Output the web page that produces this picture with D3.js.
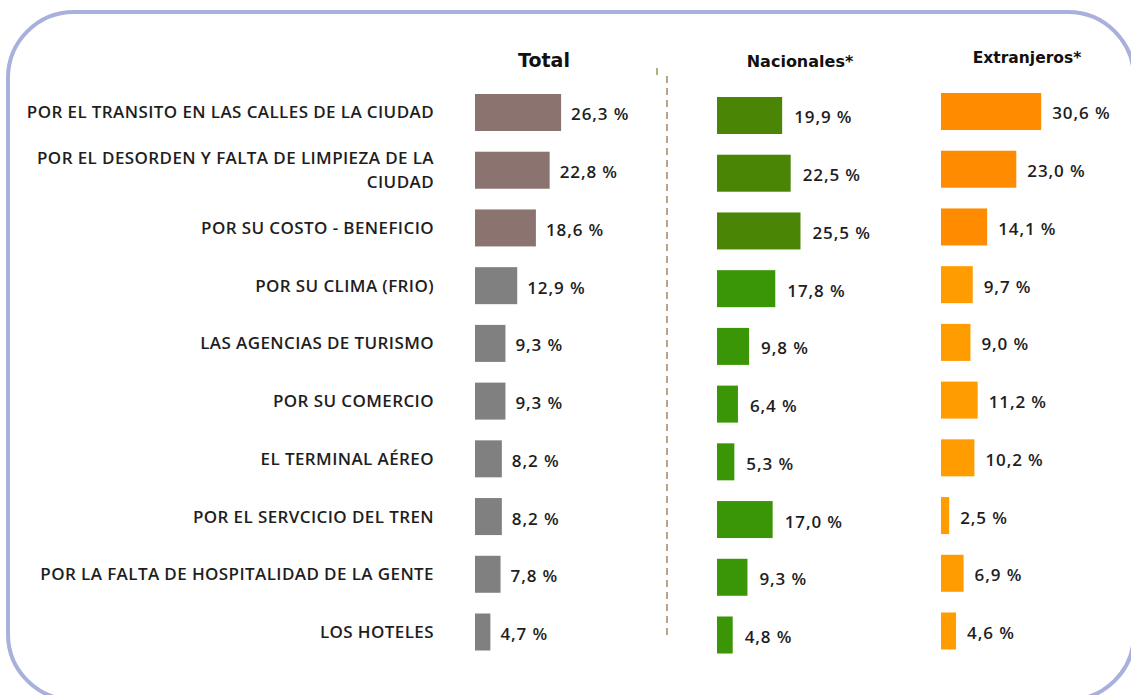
<html>
<head>
	<title>Percepcion de la ciudad</title>
	<meta charset="utf-8">
	<script src="https://d3js.org/d3.v7.min.js"></script>
	<style>
		body { margin: 0; background: #fff; }
		text { font-family: "Open Sans", Lato, sans-serif; }
	</style>
</head>
<body>
	<script type="text/javascript">
		var width = 1131,
			height = 695;

		// categories (second one wraps in two lines)
		var categories = [
			["POR EL TRANSITO EN LAS CALLES DE LA CIUDAD"],
			["POR EL DESORDEN Y FALTA DE LIMPIEZA DE LA", "CIUDAD"],
			["POR SU COSTO - BENEFICIO"],
			["POR SU CLIMA (FRIO)"],
			["LAS AGENCIAS DE TURISMO"],
			["POR SU COMERCIO"],
			["EL TERMINAL AÉREO"],
			["POR EL SERVCICIO DEL TREN"],
			["POR LA FALTA DE HOSPITALIDAD DE LA GENTE"],
			["LOS HOTELES"]
		];
		var total = [26.3, 22.8, 18.6, 12.9, 9.3, 9.3, 8.2, 8.2, 7.8, 4.7];
		var nacionales = [19.9, 22.5, 25.5, 17.8, 9.8, 6.4, 5.3, 17.0, 9.3, 4.8];
		var extranjeros = [30.6, 23.0, 14.1, 9.7, 9.0, 11.2, 10.2, 2.5, 6.9, 4.6];
		var headers = ["Total", "Nacionales*", "Extranjeros*"];

		var svg = d3.select("body").append("svg")
			.attr("width", width)
			.attr("height", height);

		// rounded frame
		svg.append("rect")
			.attr("x", 8).attr("y", 12)
			.attr("width", 1126).attr("height", 688)
			.attr("rx", 66).attr("ry", 66)
			.attr("fill", "none")
			.attr("stroke", "#a9b0dc")
			.attr("stroke-width", 4);

		var idx = d3.range(categories.length);
		var yScale = d3.scalePoint().domain(idx).range([112.5, 632]);
		var xScale = d3.scaleLinear().domain([0, 31]).range([0, 101.5]);
		var barH = 37;

		var fmt = function(v) { return d3.format(".1f")(v).replace(".", ",") + " %"; };

		// category labels
		var lab = svg.append("g").selectAll("text")
			.data(categories)
			.enter().append("text")
			.attr("x", 434)
			.attr("text-anchor", "end")
			.attr("font-size", 17)
			.attr("font-weight", 600)
			.attr("letter-spacing", "0.4px")
			.attr("fill", "#1e1e1e");
		lab.each(function(d, i) {
			var t = d3.select(this);
			var y0 = yScale(i) - (d.length - 1) * 12;
			d.forEach(function(line, k) {
				t.append("tspan").attr("x", 434).attr("y", y0 + k * 24).attr("dy", "0.35em").text(line);
			});
		});

		var panels = [
			{ name: headers[0], vals: total, x0: 475, dy: 0, lx: 10, hx: 544, hy: 60, hs: 19,
			  c1: "#8b7470", c2: "#808080" },
			{ name: headers[1], vals: nacionales, x0: 717, dy: 3, lx: 12, hx: 800, hy: 61, hs: 16,
			  c1: "#4a8506", c2: "#3a9606" },
			{ name: headers[2], vals: extranjeros, x0: 941, dy: -1, lx: 11, hx: 1027, hy: 58, hs: 15.5,
			  c1: "#ff8c00", c2: "#ff9d00" }
		];

		panels.forEach(function(p) {
			var g = svg.append("g").attr("transform", "translate(" + p.x0 + ",0)");

			svg.append("text")
				.attr("x", p.hx).attr("y", p.hy)
				.attr("text-anchor", "middle")
				.attr("dy", "0.35em")
				.attr("font-size", p.hs)
				.attr("font-weight", "bold")
				.attr("fill", "#111")
				.style("font-family", "'DejaVu Sans', sans-serif")
				.text(p.name);

			g.selectAll("rect")
				.data(p.vals)
				.enter().append("rect")
				.attr("x", 0)
				.attr("y", function(d, i) { return yScale(i) + p.dy - barH / 2; })
				.attr("width", function(d) { return xScale(d); })
				.attr("height", barH)
				.attr("fill", function(d, i) { return i < 3 ? p.c1 : p.c2; });

			g.selectAll("text")
				.data(p.vals)
				.enter().append("text")
				.attr("x", function(d) { return xScale(d) + p.lx; })
				.attr("y", function(d, i) { return yScale(i) + p.dy + 2; })
				.attr("dy", "0.35em")
				.attr("font-size", 17)
				.attr("font-weight", 600)
				.attr("letter-spacing", "0.9px")
				.attr("fill", "#1e1e1e")
				.text(fmt);
		});

		// dashed divider (with the small stray tick above it)
		svg.append("line")
			.attr("x1", 657).attr("x2", 657)
			.attr("y1", 68).attr("y2", 75)
			.attr("stroke", "#8c9a5a")
			.attr("stroke-width", 1.5);
		svg.append("line")
			.attr("x1", 667).attr("x2", 667)
			.attr("y1", 76).attr("y2", 636)
			.attr("stroke", "#a3886a")
			.attr("stroke-width", 1.5)
			.attr("stroke-dasharray", "7,5");
	</script>
</body>
</html>
